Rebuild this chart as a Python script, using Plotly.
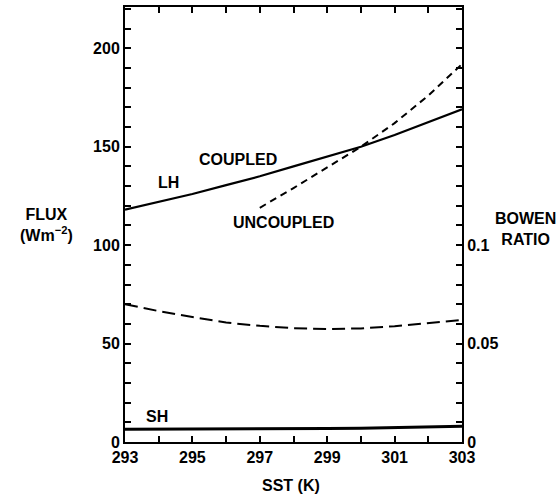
import plotly.graph_objects as go

sst = [293, 294, 295, 296, 297, 298, 299, 300, 301, 302, 303]
lh_coupled = [118, 122, 126, 130.5, 135, 140, 145, 150, 156, 162.5, 169]
sst_unc = [297, 298, 299, 300, 301, 302, 303]
lh_uncoupled = [119, 129, 139.5, 150, 162, 176, 192]
bowen = [0.070, 0.0665, 0.0635, 0.0607, 0.059, 0.0578, 0.0574, 0.0577, 0.0588, 0.0603, 0.062]
sh = [6.5, 6.5, 6.5, 6.5, 6.5, 6.6, 6.8, 7.0, 7.3, 7.6, 8.0]

x_ticks = list(range(293, 304))
x_labels = [str(v) if v % 2 == 1 else "" for v in x_ticks]
y_ticks = list(range(0, 221, 10))
y_labels = [str(v) if v % 50 == 0 else "" for v in y_ticks]
b_ticks = [round(v * 0.01, 2) for v in range(0, 23)]
b_labels = {0: "0", 5: "0.05", 10: "0.1"}
b_text = [b_labels.get(i, "") for i in range(0, 23)]

FONT = "Liberation Sans"
fig = go.Figure()
fig.add_trace(go.Scatter(x=sst, y=lh_coupled, mode="lines",
                         line=dict(color="black", width=2.2)))
fig.add_trace(go.Scatter(x=sst_unc, y=lh_uncoupled, mode="lines",
                         line=dict(color="black", width=2, dash="7px,5px")))
fig.add_trace(go.Scatter(x=sst, y=sh, mode="lines",
                         line=dict(color="black", width=3)))
fig.add_trace(go.Scatter(x=sst, y=bowen, mode="lines", yaxis="y2",
                         line=dict(color="black", width=2, dash="13px,6px")))
# invisible trace to activate the top axis
fig.add_trace(go.Scatter(x=[sst[0]], y=[sh[0]], xaxis="x2", mode="lines",
                         line=dict(width=0), hoverinfo="skip"))

tfont = dict(family=FONT, size=16, color="black", weight="bold")
axis_common = dict(showgrid=False, zeroline=False, showline=True, linecolor="black",
                   linewidth=2, ticks="inside", tickcolor="black", tickwidth=2,
                   tickfont=tfont, tickmode="array")

fig.update_layout(
    width=558, height=495, showlegend=False,
    paper_bgcolor="white", plot_bgcolor="white",
    margin=dict(l=125, r=96, t=7, b=53),
    xaxis=dict(range=[293, 303], tickvals=x_ticks, ticktext=x_labels, ticklen=6,
               **axis_common),
    xaxis2=dict(range=[293, 303], overlaying="x", side="top", tickvals=x_ticks,
                ticktext=[""] * len(x_ticks), ticklen=6, **axis_common),
    yaxis=dict(range=[0, 221], tickvals=y_ticks, ticktext=y_labels, ticklen=6,
               **axis_common),
    yaxis2=dict(range=[0, 0.221], overlaying="y", side="right", tickvals=b_ticks,
                ticktext=b_text, ticklen=6, **axis_common),
)

afont = dict(family=FONT, size=16, color="black", weight="bold")
annots = [
    dict(x=294.28, y=131.6, text="LH"),
    dict(x=296.35, y=143.3, text="COUPLED"),
    dict(x=297.69, y=111.3, text="UNCOUPLED"),
    dict(x=293.95, y=13.2, text="SH"),
]
for a in annots:
    fig.add_annotation(showarrow=False, font=afont, xref="x", yref="y",
                       xanchor="center", yanchor="middle", **a)

common = dict(xref="paper", yref="paper", showarrow=False, font=afont,
              xanchor="center", yanchor="middle", align="center")
fig.add_annotation(x=-0.234, y=0.499, text="FLUX<br>(Wm<sup>−2</sup>)", **common)
fig.add_annotation(x=1.187, y=0.49, text="BOWEN<br>RATIO", **common)
fig.add_annotation(x=0.493, y=-0.099, text="SST (K)", **common)

fig.write_html("out.html")
